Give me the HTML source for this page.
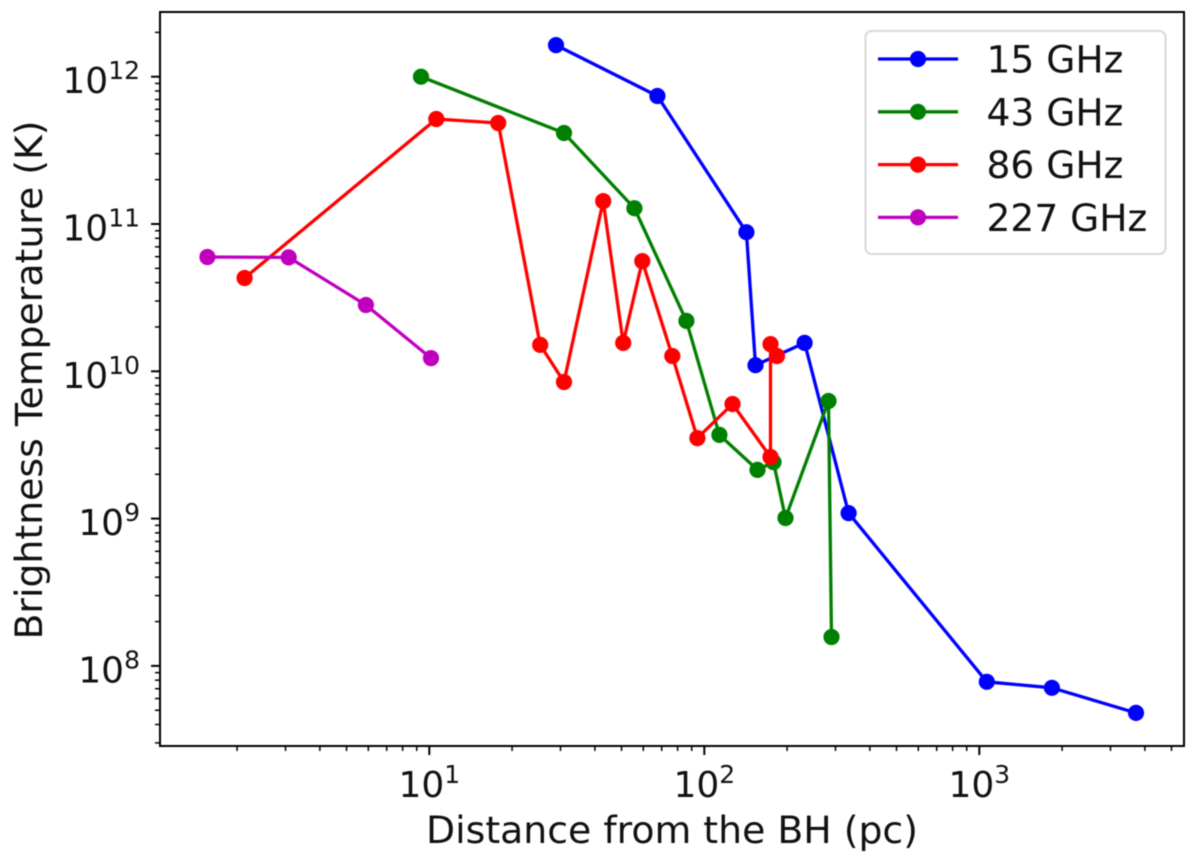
<!DOCTYPE html>
<html lang="en">
<head>
<meta charset="utf-8">
<title>Brightness Temperature vs Distance from the BH</title>
<style>
html,body{margin:0;padding:0;background:#fff;width:1200px;height:864px;overflow:hidden}
svg{display:block;filter:blur(0.5px)}
text{font-family:"DejaVu Sans","Liberation Sans",sans-serif;fill:#111}
</style>
</head>
<body>
<svg id="chart" xmlns="http://www.w3.org/2000/svg" width="1200" height="864" viewBox="0 0 1200 864"></svg>
<script>
const seriesNames = ['15 GHz', '43 GHz', '86 GHz', '227 GHz'];
const seriesColors = ['#0000ff', '#008000', '#ff0000', '#bf00bf'];
const x15 = [28.9, 67.5, 142.3, 153.5, 231.5, 334.7, 1065, 1837, 3714];
const y15 = [1.64e12, 7.4e11, 8.8e10, 1.10e10, 1.56e10, 1.09e9, 7.8e7, 7.1e7, 4.8e7];
const x43 = [9.33, 30.9, 55.7, 86.1, 113.5, 156.1, 178.5, 197.4, 283, 290];
const y43 = [1e12, 4.15e11, 1.28e11, 2.2e10, 3.7e9, 2.14e9, 2.42e9, 1.01e9, 6.29e9, 1.57e8];
const x86 = [2.13, 10.6, 17.8, 25.3, 30.9, 42.9, 50.7, 59.5, 76.5, 94.4, 126.6, 174, 174, 183.8];
const y86 = [4.30e10, 5.16e11, 4.85e11, 1.51e10, 8.46e9, 1.43e11, 1.56e10, 5.6e10, 1.27e10, 3.52e9, 6.0e9, 2.62e9, 1.53e10, 1.27e10];
const x227 = [1.56, 3.08, 5.88, 10.14];
const y227 = [5.97e10, 5.93e10, 2.82e10, 1.23e10];
const xTickExponents = [1, 2, 3];
const yTickExponents = [8, 9, 10, 11, 12];
const xMinorDecades = [0, 1, 2, 3];
const yMinorDecades = [7, 8, 9, 10, 11, 12];
const minorMultipliers = [2, 3, 4, 5, 6, 7, 8, 9];

const svg = document.getElementById('chart');
const NS = 'http://www.w3.org/2000/svg';
const plot = { left: 160, right: 1184, top: 12, bottom: 746 };

function xScale(v) { return 429.3 + (Math.log10(v) - 1) * 275; }
function yScale(v) { return 76.7 + (12 - Math.log10(v)) * 147.3; }

function make(tag, attrs, parent) {
  const el = document.createElementNS(NS, tag);
  for (const k in attrs) el.setAttribute(k, attrs[k]);
  (parent || svg).appendChild(el);
  return el;
}

function powerLabel(parent, exp, anchorX, baseY, anchor) {
  const t = make('text', { x: anchorX, y: baseY, 'font-size': 36, 'text-anchor': anchor }, parent);
  t.textContent = '10';
  const s = make('tspan', { dy: -14, 'font-size': 25 }, t);
  s.textContent = String(exp);
}

const allSeries = [[x15, y15], [x43, y43], [x86, y86], [x227, y227]];

allSeries.forEach(function (pair, i) {
  const g = make('g', {});
  
  
  const pts = pair[0].map(function (x, j) { return xScale(x).toFixed(1) + ',' + yScale(pair[1][j]).toFixed(1); });
  const line = make('polyline', { points: pts.join(' '), fill: 'none', stroke: seriesColors[i], 'stroke-width': 3.3, 'stroke-linejoin': 'round' }, g);
  
  
  pair[0].forEach(function (x, j) {
    const c = make('circle', { cx: xScale(x).toFixed(1), cy: yScale(pair[1][j]).toFixed(1), r: 8.1, fill: seriesColors[i] }, g);
    
    
  });
});

const frame = make('rect', { x: plot.left, y: plot.top, width: plot.right - plot.left, height: plot.bottom - plot.top, fill: 'none', stroke: '#000', 'stroke-width': 2 });



const xAxis = make('g', {});


xMinorDecades.forEach(function (d) {
  minorMultipliers.forEach(function (m) {
    const px = xScale(m * Math.pow(10, d));
    if (px < plot.left || px > plot.right) return;
    const t = make('line', { x1: px, x2: px, y1: plot.bottom, y2: plot.bottom + 5, stroke: '#000', 'stroke-width': 1.5 }, xAxis);
    
    
  });
});
xTickExponents.forEach(function (e) {
  const px = xScale(Math.pow(10, e));
  const t = make('line', { x1: px, x2: px, y1: plot.bottom, y2: plot.bottom + 9, stroke: '#000', 'stroke-width': 2 }, xAxis);
  
  
  const g = make('g', {}, xAxis);
  
  
  powerLabel(g, e, px, 797, 'middle');
});

const yAxis = make('g', {});


yMinorDecades.forEach(function (d) {
  minorMultipliers.forEach(function (m) {
    const py = yScale(m * Math.pow(10, d));
    if (py < plot.top || py > plot.bottom) return;
    const t = make('line', { x1: plot.left - 5, x2: plot.left, y1: py, y2: py, stroke: '#000', 'stroke-width': 1.5 }, yAxis);
    
    
  });
});
yTickExponents.forEach(function (e) {
  const py = yScale(Math.pow(10, e));
  const t = make('line', { x1: plot.left - 9, x2: plot.left, y1: py, y2: py, stroke: '#000', 'stroke-width': 2 }, yAxis);
  
  
  const g = make('g', {}, yAxis);
  
  
  powerLabel(g, e, 140, py + 16.5, 'end');
});

const xTitle = make('text', { x: 672, y: 843, 'font-size': 37.8, 'text-anchor': 'middle' });
xTitle.textContent = 'Distance from the BH (pc)';



const yTitle = make('text', { x: 0, y: 0, 'font-size': 37.8, 'text-anchor': 'middle', transform: 'translate(42,380) rotate(-90)' });
yTitle.textContent = 'Brightness Temperature (K)';



const legend = make('g', {});


const legendBox = make('rect', { x: 865.5, y: 31, width: 300, height: 223, rx: 6, fill: '#fff', 'fill-opacity': 0.8, stroke: '#d9d9d9', 'stroke-width': 2 }, legend);


seriesNames.forEach(function (name, i) {
  const ly = 59 + i * 52.8;
  const g = make('g', {}, legend);
  
  
  make('line', { x1: 878, x2: 958, y1: ly, y2: ly, stroke: seriesColors[i], 'stroke-width': 3.3 }, g);
  make('circle', { cx: 918, cy: ly, r: 8.1, fill: seriesColors[i] }, g);
  const t = make('text', { x: 986.5, y: ly + 13.5, 'font-size': 37.6 }, g);
  t.textContent = name;
});
</script>
</body>
</html>
